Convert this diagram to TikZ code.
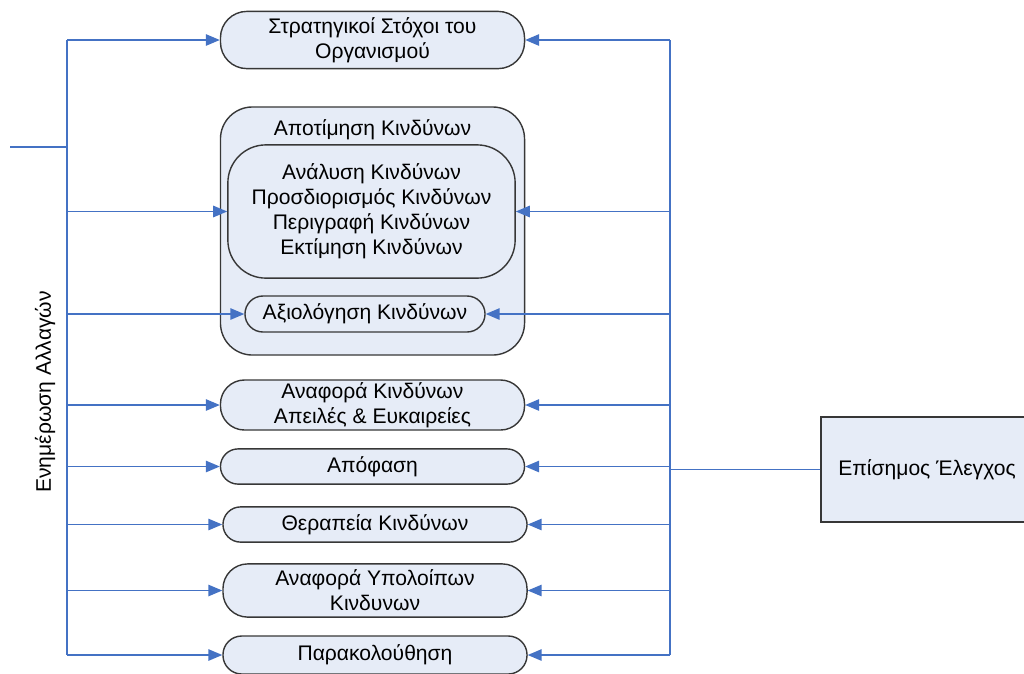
\documentclass[tikz,border=0pt]{standalone}
\usepackage{fontspec}
\setmainfont{Liberation Sans}
\usetikzlibrary{arrows, positioning}
\definecolor{lineblue}{RGB}{68,114,196}
\definecolor{boxfill}{RGB}{230,236,247}
\definecolor{boxline}{RGB}{55,55,55}

\begin{document}
\begin{tikzpicture}[x=0.025cm, y=-0.025cm, >=triangle 45,
	font=\fontsize{15pt}{17.8pt}\selectfont,
	stage/.style={draw=boxline, line width=1pt, fill=boxfill, align=center, inner sep=0pt, minimum width=7.6cm},
	link/.style={draw=lineblue, line width=1.3pt}]
		\useasboundingbox (0,0) rectangle (1024,673);
		\node[stage, minimum height=1.43cm, rounded corners=0.66cm] (goals) at (372.5,40) {Στρατηγικοί Στόχοι του\\Οργανισμού};
		\node[stage, minimum height=6.2cm, rounded corners=0.8cm] (assess) at (372.5,231) {};
		\node[below=0.2cm of assess.north] (assesstitle) {Αποτίμηση Κινδύνων};
		\node[stage, minimum width=7.18cm, minimum height=3.33cm, rounded corners=0.95cm] (analysis) at (371.5,211.5) {Ανάλυση Κινδύνων\\Προσδιορισμός Κινδύνων\\Περιγραφή Κινδύνων\\Εκτίμηση Κινδύνων};
		\node[stage, minimum width=6cm, minimum height=0.9cm, rounded corners=0.45cm] (evaluation) at (365,314) {Αξιολόγηση Κινδύνων};
		\node[stage, minimum height=1.25cm, rounded corners=0.6cm] (report) at (372.5,405) {Αναφορά Κινδύνων\\Απειλές \& Ευκαιρείες};
		\node[stage, minimum height=0.88cm, rounded corners=0.44cm] (decision) at (372.5,466.5) {Απόφαση};
		\node[stage, minimum height=0.88cm, rounded corners=0.44cm] (treatment) at (375,524.5) {Θεραπεία Κινδύνων};
		\node[stage, minimum height=1.33cm, rounded corners=0.62cm] (residual) at (375,590.5) {Αναφορά Υπολοίπων\\Κινδυνων};
		\node[stage, minimum height=0.95cm, rounded corners=0.47cm] (monitor) at (375,655) {Παρακολούθηση};
		\node[stage, minimum width=5.3cm, minimum height=2.62cm] (control) at (927,469.5) {Επίσημος Έλεγχος};
		\node[rotate=90] (updates) at (45,392) {Ενημέρωση Αλλαγών};

		\coordinate (lbus) at (67,0); \coordinate (rbus) at (670,0); \coordinate (feed) at (10,147);
		\draw[link] (lbus |- goals.west) -- (lbus |- monitor.west); \draw[link] (feed) -- (feed -| lbus);
		\draw[link] (rbus |- goals.east) -- (rbus |- monitor.east); \draw[link] (control.west) -- (control.west -| rbus);

		\draw[link,->] (lbus |- goals.west) -- (goals.west); \draw[link,->] (rbus |- goals.east) -- (goals.east);
		\draw[link,->] (lbus |- analysis.west) -- (analysis.west); \draw[link,->] (rbus |- analysis.east) -- (analysis.east);
		\draw[link,->] (lbus |- evaluation.west) -- (evaluation.west); \draw[link,->] (rbus |- evaluation.east) -- (evaluation.east);
		\draw[link,->] (lbus |- report.west) -- (report.west); \draw[link,->] (rbus |- report.east) -- (report.east);
		\draw[link,->] (lbus |- decision.west) -- (decision.west); \draw[link,->] (rbus |- decision.east) -- (decision.east);
		\draw[link,->] (lbus |- treatment.west) -- (treatment.west); \draw[link,->] (rbus |- treatment.east) -- (treatment.east);
		\draw[link,->] (lbus |- residual.west) -- (residual.west); \draw[link,->] (rbus |- residual.east) -- (residual.east);
		\draw[link,->] (lbus |- monitor.west) -- (monitor.west); \draw[link,->] (rbus |- monitor.east) -- (monitor.east);
	\end{tikzpicture}
\end{document}
